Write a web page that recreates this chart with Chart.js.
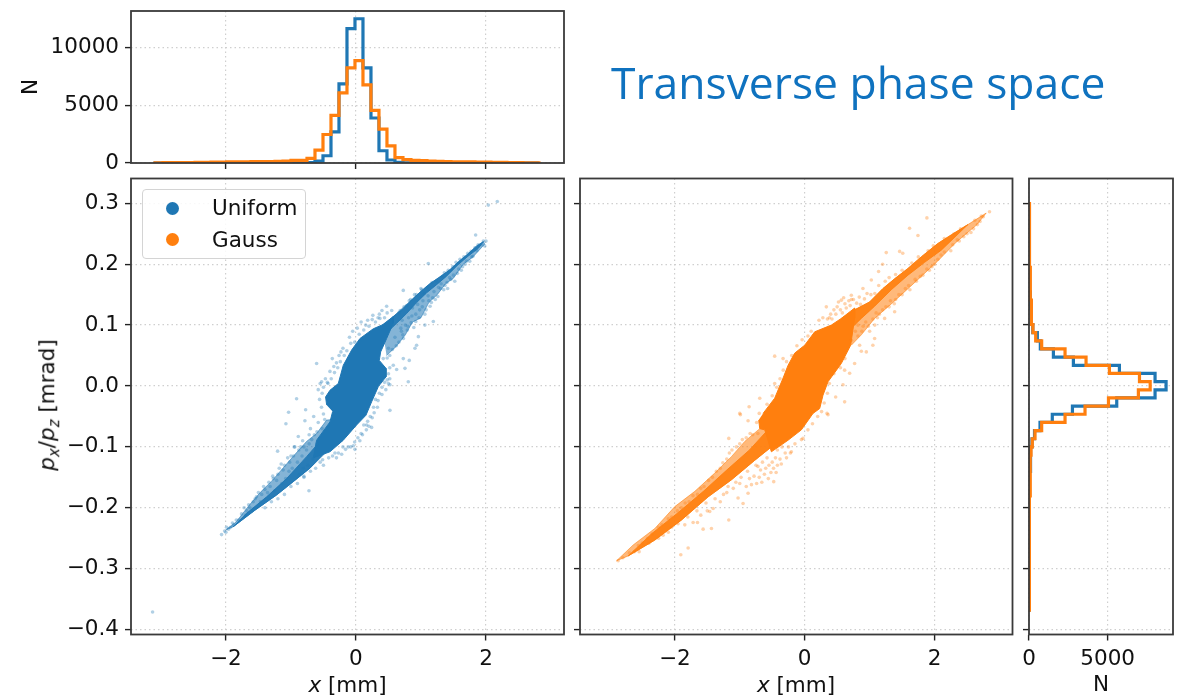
<!DOCTYPE html>
<html>
<head>
<meta charset="utf-8">
<title>Transverse phase space</title>
<script src="https://cdn.jsdelivr.net/npm/chart.js@4"></script>
<style>
  html, body { margin: 0; padding: 0; background: #fff; }
  #page { position: relative; width: 1188px; height: 699px; overflow: hidden; font-family: "DejaVu Sans", sans-serif; color: #111; }
  canvas { position: absolute; left: 0; top: 0; }
  .txt { position: absolute; white-space: nowrap; font-size: 21.5px; line-height: 1; transform: translate(-50%, -50%); }
  .txt sub { font-size: 15px; line-height: 0; }
  #title { left: 611px; top: 82px; transform: translateY(-50%); font-family: "Open Sans", sans-serif; font-size: 44.4px; color: #0f72bf; }
  #legend { position: absolute; left: 142px; top: 189px; width: 162px; height: 68px; border: 1.5px solid #d4d4d4; border-radius: 4px; background: rgba(255,255,255,.85); }
  #legend i { position: absolute; left: 23px; width: 13px; height: 13px; border-radius: 50%; }
  #legend span { position: absolute; left: 69px; font-size: 21.5px; line-height: 1; }
</style>
</head>
<body>
<div id="page">
  <canvas id="topHist" width="1188" height="699"></canvas>
  <canvas id="uniformPanel" width="1188" height="699"></canvas>
  <canvas id="gaussPanel" width="1188" height="699"></canvas>
  <canvas id="sideHist" width="1188" height="699"></canvas>
  <div class="txt" id="title">Transverse phase space</div>
  <div class="txt" style="left:347.5px;top:685px"><em>x</em> [mm]</div>
  <div class="txt" style="left:796px;top:685px"><em>x</em> [mm]</div>
  <div class="txt" style="left:47px;top:405px;transform:translate(-50%,-50%) rotate(-90deg)"><em>p<sub>x</sub></em>/<em>p<sub>z</sub></em> [mrad]</div>
  <div id="legend">
    <i style="top:12px;background:#1f77b4"></i><span style="top:7px">Uniform</span>
    <i style="top:43px;background:#ff7f0e"></i><span style="top:39px">Gauss</span>
  </div>
</div>
<script>
const blue = 'rgb(31,119,180)';
const orange = 'rgb(255,127,14)';

// x histogram
const xEdges = [-3.09,-2.967,-2.844,-2.721,-2.598,-2.475,-2.352,-2.229,-2.106,-1.983,-1.86,-1.737,-1.614,-1.491,-1.368,-1.245,-1.122,-0.999,-0.876,-0.753,-0.63,-0.507,-0.384,-0.261,-0.138,-0.015,0.108,0.231,0.354,0.477,0.6,0.723,0.846,0.969,1.092,1.215,1.338,1.461,1.584,1.707,1.83,1.953,2.076,2.199,2.322,2.445,2.568,2.691,2.814];
const xCountUniform = [2,0,0,0,0,0,0,0,0,2,5,5,8,10,12,14,16,18,20,40,170,630,2700,6860,11650,12500,8240,3900,1060,260,60,15,10,8,6,5,4,3,3,2,2,1,1,1,0,0,0,0];
const xCountGauss = [20,30,35,40,45,50,60,70,80,90,100,110,115,120,130,140,170,230,230,400,1120,2470,4130,6080,8240,8870,6770,4560,2930,1490,460,290,230,200,170,150,130,110,100,90,80,70,60,50,40,30,20,10];

// y histogram
const yEdges = [-0.368,-0.3546,-0.3412,-0.3278,-0.3144,-0.301,-0.2876,-0.2742,-0.2608,-0.2474,-0.234,-0.2206,-0.2072,-0.1938,-0.1804,-0.167,-0.1536,-0.1402,-0.1268,-0.1134,-0.1,-0.0866,-0.0732,-0.0598,-0.0464,-0.033,-0.0196,-0.0062,0.0072,0.0206,0.034,0.0474,0.0608,0.0742,0.0876,0.101,0.1144,0.1278,0.1412,0.1546,0.168,0.1814,0.1948,0.2082,0.2216,0.235,0.2484,0.2618,0.2752,0.2886,0.302];
const yCountUniform = [3,0,0,0,0,0,0,0,0,2,5,10,15,20,30,40,55,70,90,120,190,350,700,1480,2760,5575,8010,8710,8010,5745,2820,1550,720,530,240,170,130,100,80,60,45,35,25,18,12,8,4,2,1,3];
const yCountGauss = [0,0,0,0,0,5,20,30,35,40,45,50,55,60,65,70,75,85,100,130,210,380,805,2290,3560,5050,6950,7700,7020,5110,3625,2290,805,425,250,190,160,130,110,95,80,70,60,55,50,40,30,25,20,5];

const xTicks = [-2, 0, 2];
const yTicks = [-0.4, -0.3, -0.2, -0.1, 0, 0.1, 0.2, 0.3];
const countTicksTop = [0, 5000, 10000];
const countTicksSide = [0, 5000];

// outline of the saturated part of each cloud (x, y)
const uniformCore = [[-0.451,-0.031],[-0.467,-0.018],[-0.4,-0.007],[-0.272,0.004],[-0.195,0.034],[-0.067,0.059],[0.062,0.078],[0.267,0.094],[0.42,0.101],[0.574,0.114],[0.574,0.103],[0.472,0.078],[0.38,0.056],[0.359,0.042],[0.462,0.029],[0.462,0.015],[0.344,-0.001],[0.241,-0.026],[0.154,-0.048],[0.01,-0.064],[-0.195,-0.089],[-0.4,-0.108],[-0.656,-0.118],[-0.605,-0.089],[-0.4,-0.059],[-0.359,-0.042]];
const gaussCore = [[-0.641,-0.045],[-0.462,-0.02],[-0.333,0.013],[-0.256,0.034],[-0.154,0.054],[0,0.067],[0.154,0.089],[0.41,0.1],[0.564,0.111],[0.769,0.128],[0.769,0.111],[0.708,0.067],[0.564,0.037],[0.359,0.007],[0.282,-0.015],[0.231,-0.037],[0.128,-0.045],[-0.051,-0.072],[-0.256,-0.089],[-0.513,-0.108],[-0.615,-0.072],[-0.692,-0.07],[-0.708,-0.056]];

// darker band on each tail, then the whole lighter tail (x, y)
const uniformBandUp = [[0.574,0.114],[0.728,0.127],[0.882,0.144],[1.036,0.159],[1.138,0.168],[1.292,0.179],[1.446,0.191],[1.574,0.204],[1.703,0.215],[1.856,0.23],[1.959,0.237],[1.882,0.226],[1.723,0.213],[1.569,0.199],[1.39,0.18],[1.236,0.166],[1.087,0.153],[0.933,0.137],[0.779,0.119],[0.626,0.103],[0.4,0.08]];
const uniformTailUp = [[0.4,0.1],[0.574,0.114],[0.882,0.144],[1.138,0.168],[1.446,0.191],[1.703,0.215],[1.959,0.237],[1.98,0.233],[1.8,0.212],[1.65,0.2],[1.5,0.177],[1.38,0.168],[1.25,0.15],[1.12,0.137],[1.0,0.112],[0.87,0.105],[0.76,0.084],[0.62,0.065],[0.47,0.05]];
const uniformBandDown = [[-0.4,-0.1],[-0.708,-0.135],[-0.964,-0.157],[-1.221,-0.179],[-1.554,-0.204],[-1.887,-0.231],[-1.682,-0.209],[-1.374,-0.182],[-1.067,-0.152],[-0.759,-0.116],[-0.554,-0.091],[-0.35,-0.07]];
const uniformTailDown = [[-0.35,-0.055],[-0.451,-0.056],[-0.605,-0.078],[-0.759,-0.091],[-0.944,-0.113],[-1.123,-0.135],[-1.303,-0.157],[-1.456,-0.173],[-1.636,-0.195],[-1.841,-0.223],[-1.995,-0.236],[-1.887,-0.231],[-1.554,-0.204],[-1.221,-0.179],[-0.964,-0.157],[-0.708,-0.135],[-0.451,-0.108],[-0.195,-0.089]];
const gaussBandUp = [[0.564,0.111],[0.769,0.125],[1,0.138],[1.205,0.16],[1.385,0.176],[1.59,0.193],[1.795,0.212],[2.051,0.234],[2.256,0.248],[2.513,0.265],[2.103,0.223],[1.846,0.203],[1.59,0.182],[1.333,0.158],[1.077,0.131],[0.872,0.111],[0.718,0.095],[0.5,0.07]];
const gaussTailUp = [[0.5,0.105],[0.769,0.125],[1,0.138],[1.205,0.16],[1.385,0.176],[1.59,0.193],[1.795,0.212],[2.051,0.234],[2.256,0.248],[2.513,0.265],[2.795,0.284],[2.654,0.265],[2.321,0.235],[2.038,0.204],[1.654,0.166],[1.346,0.136],[1.077,0.111],[0.872,0.084],[0.718,0.067]];
const gaussBandDown = [[-0.45,-0.09],[-0.513,-0.1],[-0.769,-0.122],[-1.128,-0.154],[-1.487,-0.182],[-1.897,-0.22],[-2.308,-0.253],[-2.718,-0.279],[-2.35,-0.242],[-1.95,-0.208],[-1.55,-0.172],[-1.2,-0.138],[-0.85,-0.105],[-0.55,-0.07]];
const gaussTailDown = [[-0.55,-0.06],[-0.692,-0.07],[-0.923,-0.091],[-1.128,-0.116],[-1.385,-0.143],[-1.692,-0.173],[-2,-0.198],[-2.308,-0.234],[-2.641,-0.261],[-2.897,-0.287],[-2.718,-0.279],[-2.308,-0.253],[-1.897,-0.22],[-1.487,-0.182],[-1.128,-0.154],[-0.769,-0.122],[-0.513,-0.1],[-0.256,-0.086]];

// individual points picked out around the clouds (x, y)
const uniformPoints = [[2.174,0.303],[2.036,0.297],[1.841,0.248],[1.113,0.201],[0.728,0.157],[0.472,0.131],[0.369,0.111],[1.19,0.106],[1.06,0.1],[0.96,0.081],[0.933,0.067],[0.908,0.062],[0.728,0.045],[0.82,0.042],[0.754,0.029],[0.626,0.027],[0.574,0.034],[0.805,0.007],[0.523,0.002],[-0.605,0.037],[-0.364,0.045],[-0.231,0.056],[-0.528,0.007],[-0.43,0.004],[-0.913,-0.021],[-0.774,-0.039],[-1.036,-0.043],[0.523,-0.04],[-1.077,-0.062],[-0.785,-0.057],[-0.887,-0.083],[-1.205,-0.107],[-0.94,-0.1],[0.241,-0.068],[0.164,-0.064],[-0.323,-0.11],[-0.015,-0.104],[-0.513,-0.121],[-0.723,-0.172],[-0.8,-0.15],[-3.128,-0.371],[-2.067,-0.244],
[0.8,0.098],[0.86,0.115],[0.92,0.118],[0.98,0.125],[1.02,0.13],[1.08,0.125],[1.12,0.14],[1.18,0.145],[1.22,0.142],[1.3,0.16],[1.35,0.158],[1.4,0.17],[1.46,0.175],[1.5,0.182],[1.56,0.185],[1.62,0.19],[1.68,0.2],[1.75,0.205],[1.8,0.213],[0.7,0.09],[0.66,0.072],[0.72,0.084],[0.76,0.1],[0.62,0.066],[0.56,0.06],[0.6,0.08],[0.52,0.05],[0.48,0.046],[0.5,0.062],
[0.68,0.124],[0.71,0.108],[0.69,0.095],[0.73,0.078],[0.78,0.132],[0.81,0.112],[0.79,0.092],[0.84,0.142],[0.87,0.128],[0.85,0.104],[0.89,0.096],[0.93,0.15],[0.95,0.134],[0.92,0.106],[0.97,0.112],[1.01,0.158],[1.03,0.14],[1.06,0.118],[1.05,0.152],[1.1,0.162],[1.14,0.131],[1.11,0.148],[1.17,0.17],[1.2,0.155],[1.16,0.137],[1.24,0.172],[1.27,0.162],[1.26,0.147],[1.33,0.18],[1.31,0.168],[1.37,0.165],[1.36,0.186],[1.42,0.19],[1.44,0.178],[1.41,0.16],[1.49,0.196],[1.52,0.172],[1.54,0.203],[1.58,0.192],[1.6,0.208],[1.64,0.196],[1.66,0.212],[1.7,0.205],[1.72,0.218],[1.77,0.221],[1.78,0.212],[1.83,0.227],[1.86,0.222],[1.88,0.232],[1.93,0.232],[1.96,0.238],[2.0,0.238],[1.98,0.23],
[0.3,0.105],[0.2,0.098],[0.25,0.109],[0.36,0.118],[0.44,0.112],[0.12,0.092],[0.15,0.1],[0.05,0.085],[-0.02,0.072],[-0.08,0.07],[-0.14,0.058],[-0.18,0.05],[-0.24,0.04],[-0.28,0.03],[-0.33,0.022],[-0.38,0.012],[-0.44,0.006],[-0.5,-0.002],[-0.52,-0.012],[0.66,0.12],[0.74,0.13],[0.82,0.14],[0.9,0.15],[1.0,0.16],
[-0.1,0.08],[-0.05,0.09],[0.02,0.095],[0.08,0.105],[0.18,0.108],[0.26,0.116],[0.34,0.112],[0.4,0.124],[0.48,0.12],[0.55,0.124],[-0.2,0.062],[-0.26,0.05],[-0.3,0.038],[-0.34,0.032],[-0.4,0.024],[-0.47,0.012],[-0.55,0.004],[-0.58,-0.006],[-0.56,-0.022],[-0.53,-0.035],[-0.5,-0.046],[-0.48,-0.055],
[0.48,0.01],[0.5,0.02],[0.52,0.03],[0.42,0.045],[0.4,-0.002],[0.36,-0.012],[0.3,-0.022],[0.27,-0.035],[0.22,-0.05],[0.18,-0.058],[0.12,-0.064],[0.08,-0.078],[0.03,-0.085],[-0.02,-0.092],[-0.08,-0.1],[-0.16,-0.104],[-0.22,-0.112],[-0.3,-0.118],
[0.52,0.012],[0.5,0.004],[0.44,0.006],[0.46,-0.006],[0.4,-0.014],[0.34,-0.024],[0.33,-0.035],[0.28,-0.044],[0.25,-0.052],[0.2,-0.066],[0.16,-0.072],[0.1,-0.08],[0.06,-0.09],[-0.04,-0.098],[-0.12,-0.1],[-0.2,-0.1],[-0.27,-0.11],
[-0.52,-0.07],[-0.58,-0.06],[-0.65,-0.05],[-0.6,-0.075],[-0.7,-0.07],[-0.72,-0.08],[-0.82,-0.09],[-0.85,-0.1],[-0.95,-0.1],[-1.0,-0.115],[-1.02,-0.125],[-1.1,-0.13],[-1.15,-0.128],[-1.2,-0.145],[-1.28,-0.148],[-1.32,-0.165],[-1.42,-0.165],[-1.5,-0.175],[-1.55,-0.185],[-1.65,-0.195],[-1.72,-0.2],[-1.9,-0.225],[-1.96,-0.235],[-2.02,-0.238],[-0.55,-0.125],[-0.5,-0.13],[-0.62,-0.135],[-0.7,-0.14],[-0.8,-0.148],[-0.9,-0.16],[-1.0,-0.165],[-1.1,-0.178],[-1.2,-0.185],[-1.3,-0.19],[-1.4,-0.2],[-0.42,-0.118],[-0.36,-0.115],
[-0.6,-0.095],[-0.64,-0.08],[-0.68,-0.088],[-0.66,-0.12],[-0.72,-0.095],[-0.76,-0.105],[-0.74,-0.13],[-0.8,-0.1],[-0.83,-0.115],[-0.81,-0.135],[-0.88,-0.105],[-0.9,-0.125],[-0.87,-0.145],[-0.96,-0.115],[-0.98,-0.135],[-1.03,-0.14],[-1.05,-0.118],[-1.08,-0.152],[-1.12,-0.138],[-1.14,-0.16],[-1.18,-0.135],[-1.22,-0.155],[-1.25,-0.172],[-1.27,-0.152],[-1.34,-0.158],[-1.36,-0.175],[-1.4,-0.17],[-1.45,-0.178],[-1.47,-0.19],[-1.53,-0.182],[-1.58,-0.19],[-1.6,-0.205],[-1.63,-0.2],[-1.68,-0.205],[-1.7,-0.212],[-1.76,-0.21],[-1.8,-0.22],[-1.84,-0.22],[-1.88,-0.228],[-1.93,-0.232],[-2,-0.24],[-1.99,-0.232]];
const gaussPoints = [[2.846,0.286],[1.882,0.276],[1.615,0.259],[1.744,0.247],[1.462,0.221],[1.51,0.218],[1.256,0.219],[1.2,0.2],[1.138,0.188],[1.026,0.174],[0.897,0.16],[0.718,0.149],[0.564,0.141],[0.333,0.13],[1.385,0.122],[1.231,0.111],[1.077,0.078],[1.05,0.067],[0.872,0.057],[0.949,0.056],[0.846,0.067],[0.769,0.037],[0.692,0.021],[0.615,0.026],[0.59,0.002],[0.477,-0.018],[0.615,-0.026],[0.344,-0.045],[-0.462,0.049],[-0.333,0.045],[-0.462,0.004],[-0.692,-0.02],[-0.856,-0.034],[-1,-0.045],[-0.872,-0.057],[-0.99,-0.047],[0.359,-0.047],[-1.169,-0.086],[-0.026,-0.086],[-0.205,-0.108],[-0.477,-0.157],[-1.026,-0.184],[-0.872,-0.176],[-0.949,-0.193],[-1.41,-0.201],[-1.462,-0.206],[-1.169,-0.22],[-1.436,-0.234],[-1.564,-0.235],[-1.651,-0.224],[-1.718,-0.224],[-1.846,-0.228],[-1.795,-0.266],[-1.908,-0.277],[-2.872,-0.287],
[-0.5,-0.125],[-0.55,-0.13],[-0.6,-0.135],[-0.45,-0.118],[-0.38,-0.12],[-0.42,-0.13],[-0.3,-0.11],[-0.62,-0.145],[-0.7,-0.15],[-0.78,-0.148],[-0.85,-0.152],[-0.9,-0.165],[-0.68,-0.138],[-0.52,-0.142],[-0.48,-0.135],[-0.25,-0.1],[-0.15,-0.095],[-0.05,-0.088],[0.05,-0.072],[0.12,-0.062],[0.2,-0.05],[0.26,-0.042],[0.3,-0.028],[0.35,-0.012],[0.38,0.004],[0.45,0.02],[0.55,0.03],[0.62,0.045],[0.72,0.075],[0.78,0.09],[0.82,0.1],[0.9,0.098],[1.0,0.09],[1.08,0.1],[1.12,0.112],[1.2,0.125],[1.3,0.13],[1.4,0.142],[1.5,0.15],[1.62,0.158],[1.72,0.172],[1.82,0.182],[1.92,0.19],[2.0,0.2],[2.1,0.215],[2.25,0.222],[2.35,0.24],[2.45,0.245],[2.6,0.258],[2.7,0.27],
[0.45,0.125],[0.5,0.13],[0.55,0.125],[0.62,0.135],[0.68,0.14],[0.75,0.142],[0.4,0.118],[0.35,0.11],[0.28,0.112],[0.22,0.108],[0.6,0.145],[0.1,0.09],[0.05,0.082],[-0.04,0.076],[-0.12,0.066],[-0.2,0.05],[-0.28,0.04],[-0.33,0.026],[-0.38,0.012],[-0.43,-0.002],[-0.5,-0.016],[-0.58,-0.03],[-0.7,-0.045],[-0.74,-0.06],
[0.38,0.112],[0.42,0.11],[0.48,0.118],[0.52,0.138],[0.58,0.12],[0.64,0.128],[0.7,0.132],[0.72,0.142],[0.8,0.136],[0.84,0.146],[0.86,0.134],[0.92,0.143],[0.96,0.152],[1.02,0.15],[1.08,0.152],[1.14,0.165],[1.24,0.172],[1.3,0.178],[1.4,0.183],[1.5,0.19],[1.65,0.202],[1.75,0.212],[1.9,0.222],[1.98,0.23],[2.15,0.242],[2.3,0.25],[2.4,0.258],[2.62,0.272],[2.72,0.279],
[0.82,0.082],[0.88,0.09],[0.94,0.105],[0.98,0.098],[1.05,0.11],[1.1,0.12],[1.15,0.118],[1.25,0.13],[1.32,0.14],[1.38,0.135],[1.45,0.15],[1.55,0.16],[1.6,0.165],[1.7,0.175],[1.78,0.18],[1.88,0.192],[1.96,0.196],[2.05,0.208],[2.15,0.22],[2.28,0.232],[2.38,0.238],[2.5,0.25],[2.56,0.252],[2.66,0.265],[2.75,0.278],
[-0.8,-0.08],[-0.9,-0.085],[-1.0,-0.095],[-1.12,-0.105],[-1.2,-0.12],[-1.3,-0.135],[-1.42,-0.15],[-1.55,-0.165],[-1.65,-0.178],[-1.78,-0.19],[-1.9,-0.2],[-2.05,-0.215],[-2.2,-0.228],[-2.35,-0.243],[-2.5,-0.258],[-2.62,-0.272],[-2.8,-0.282],[-1.0,-0.16],[-1.1,-0.168],[-1.2,-0.175],[-1.3,-0.19],[-1.5,-0.205],[-1.6,-0.212],[-2.1,-0.24],[-2.25,-0.25],
[-0.72,-0.078],[-0.84,-0.078],[-0.96,-0.088],[-1.05,-0.1],[-1.16,-0.11],[-1.26,-0.126],[-1.36,-0.14],[-1.48,-0.155],[-1.6,-0.168],[-1.72,-0.18],[-1.84,-0.192],[-1.96,-0.205],[-2.1,-0.218],[-2.25,-0.232],[-2.42,-0.25],[-2.56,-0.262],[-2.7,-0.274],[-0.75,-0.13],[-0.88,-0.14],[-0.98,-0.15],[-1.06,-0.158],[-1.18,-0.165],[-1.25,-0.178],[-1.38,-0.185],[-1.52,-0.192],[-1.66,-0.205],[-1.8,-0.215],[-1.95,-0.226],[-2.05,-0.232],[-2.18,-0.245],[-2.4,-0.258],[-2.55,-0.272],
[-0.42,-0.105],[-0.35,-0.1],[-0.58,-0.118],[-0.65,-0.125],[-0.72,-0.132],[-0.36,-0.128],[-0.28,-0.118],[-0.22,-0.11],[-0.44,-0.142],[-0.56,-0.152],[-0.66,-0.158],[-0.74,-0.16],[-0.82,-0.162]];

function pairs(list) {
    return list.map(p => ({x: p[0], y: p[1]}));
}

// step outline of a histogram, bars closed down to zero at both ends
function stepsX(edges, counts) {
    const out = [{x: edges[0], y: 0}];
    counts.forEach((c, i) => { out.push({x: edges[i], y: c}); out.push({x: edges[i + 1], y: c}); });
    out.push({x: edges[edges.length - 1], y: 0});
    return out;
}
function stepsY(edges, counts) {
    return stepsX(edges, counts).map(p => ({x: p.y, y: p.x}));
}

function histSet(data, color, order) {
    return {data: data, showLine: true, pointRadius: 0, borderColor: color, borderWidth: 3.2, borderJoinStyle: 'miter', order: order, fill: false};
}
function shapeSet(list, color, order) {
    return {data: pairs(list), showLine: true, pointRadius: 0, borderWidth: 1, borderColor: color, backgroundColor: color, fill: 'shape', order: order};
}
function dotSet(list, color, order) {
    return {data: pairs(list), pointRadius: 1.8, borderWidth: 0, pointBackgroundColor: color, order: order};
}

function minusFmt(v, digits) {
    return v.toFixed(digits).replace('-', '\u2212');
}

const frame = {
    id: 'frame',
    afterDatasetsDraw(chart) {
        const a = chart.chartArea, ctx = chart.ctx;
        ctx.save();
        ctx.strokeStyle = '#3a3a3a';
        ctx.lineWidth = 1.8;
        ctx.strokeRect(a.left, a.top, a.right - a.left, a.bottom - a.top);
        ctx.restore();
    }
};

function axis(ticks, min, max, label, fmt, size, title) {
    return {
        type: 'linear', min: min, max: max,
        afterBuildTicks(s) { s.ticks = ticks.map(v => ({value: v})); },
        afterFit(s) {
            if (s.isHorizontal()) s.height = size; else s.width = size;
            s.paddingTop = s.paddingBottom = s.paddingLeft = s.paddingRight = 0;
        },
        ticks: {
            display: label, color: '#111', padding: 6, maxRotation: 0, autoSkip: false,
            font: {family: 'DejaVu Sans', size: 21.5},
            callback: fmt
        },
        grid: {color: '#cfcfcf', lineWidth: 1.2, tickColor: '#222', tickLength: 6, tickBorderDash: [], tickWidth: 1.4},
        border: {display: false, dash: [1.5, 3]},
        title: title || {display: false}
    };
}

function panel(id, datasets, left, top, right, bottom, xs, ys) {
    return new Chart(document.getElementById(id), {
        type: 'scatter',
        data: {datasets: datasets},
        options: {
            responsive: false,
            animation: false,
            events: [],
            layout: {padding: {left: 0, top: top, right: 1188 - right, bottom: 0}},
            plugins: {legend: {display: false}, tooltip: {enabled: false}},
            scales: {x: xs(699 - bottom), y: ys(left)}
        },
        plugins: [frame]
    });
}

const xFmt = v => minusFmt(v, 0);
const yFmt = v => minusFmt(v, 1);
const nFmt = v => String(v);
const xMin = -3.46, xMax = 3.2, yMin = -0.408, yMax = 0.3407;
const nTitle = pad => ({display: true, text: 'N', color: '#111', font: {family: 'DejaVu Sans', size: 21.5}, padding: {top: pad, bottom: pad}});

panel('topHist',
    [histSet(stepsX(xEdges, xCountUniform), blue, 2), histSet(stepsX(xEdges, xCountGauss), orange, 1)],
    131, 11, 564, 163,
    size => axis(xTicks, xMin, xMax, false, xFmt, size),
    size => axis(countTicksTop, 0, 13170, true, nFmt, size, nTitle(19)));

panel('uniformPanel',
    [dotSet(uniformPoints, 'rgba(31,119,180,0.35)', 1), shapeSet(uniformCore, blue, 2), shapeSet(uniformBandUp, 'rgba(31,119,180,0.9)', 3), shapeSet(uniformBandDown, 'rgba(31,119,180,0.9)', 3), shapeSet(uniformTailUp, 'rgba(31,119,180,0.55)', 4), shapeSet(uniformTailDown, 'rgba(31,119,180,0.55)', 4)],
    131, 178.5, 564, 634.5,
    size => axis(xTicks, xMin, xMax, true, xFmt, size),
    size => axis(yTicks, yMin, yMax, true, yFmt, size));

panel('gaussPanel',
    [dotSet(gaussPoints, 'rgba(255,127,14,0.35)', 1), shapeSet(gaussCore, orange, 2), shapeSet(gaussBandUp, 'rgba(255,127,14,0.9)', 3), shapeSet(gaussBandDown, 'rgba(255,127,14,0.9)', 3), shapeSet(gaussTailUp, 'rgba(255,127,14,0.55)', 4), shapeSet(gaussTailDown, 'rgba(255,127,14,0.55)', 4)],
    580, 178.5, 1012.5, 634.5,
    size => axis(xTicks, xMin, xMax, true, xFmt, size),
    size => axis(yTicks, yMin, yMax, false, yFmt, size));

panel('sideHist',
    [histSet(stepsY(yEdges, yCountUniform), blue, 2), histSet(stepsY(yEdges, yCountGauss), orange, 1)],
    1029, 178.5, 1173, 634.5,
    size => axis(countTicksSide, 0, 9150, true, nFmt, size, nTitle(1)),
    size => axis(yTicks, yMin, yMax, false, yFmt, size));
</script>
</body>
</html>
